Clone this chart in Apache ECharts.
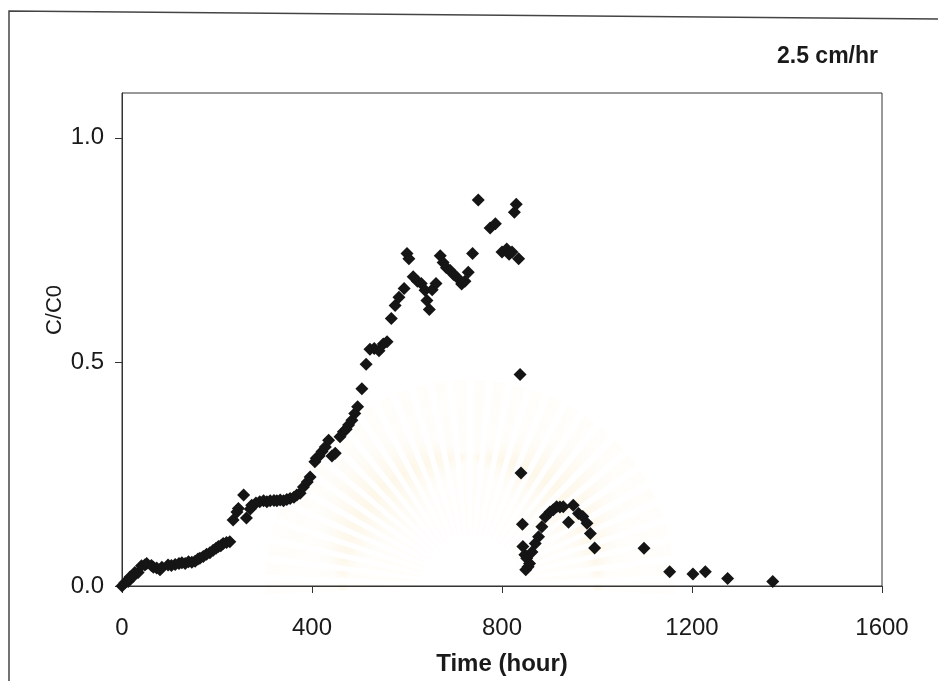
<!DOCTYPE html>
<html>
<head>
<meta charset="utf-8">
<script src="https://cdn.jsdelivr.net/npm/echarts@6/dist/echarts.min.js"></script>
<style>
  html, body { margin: 0; padding: 0; background: #fff; }
  #chart { width: 938px; height: 681px; }
</style>
</head>
<body>
<div id="chart"></div>
<script>
// Breakthrough curve, flow rate 2.5 cm/hr
const seriesTitle = '2.5 cm/hr';
const xAxisTitle = 'Time (hour)';
const yAxisTitle = 'C/C0';
const xTicks = [0, 400, 800, 1200, 1600];
const yTicks = [0, 0.5, 1.0];

// Elapsed time (hour)
const timeHours = [
  0, 6, 13, 17, 24, 27, 34, 41, 48, 52, 62, 66, 73, 80, 84, 97, 104, 112, 120, 126,
  133, 140, 147, 154, 160, 164, 171, 178, 185, 192, 198, 203, 208, 213, 220, 227,
  234, 242, 245, 256, 262, 270, 273, 282, 290, 298, 305, 312, 320, 326, 333, 340,
  347, 354, 362, 368, 375, 382, 390, 396, 406, 409, 415, 421, 428, 435, 442, 449,
  459, 466, 472, 477, 484, 490, 496, 505, 514, 522, 531, 541, 550, 558, 567, 575,
  583, 594, 600, 604, 613, 622, 630, 638, 642, 647, 653, 661, 670, 676, 683, 691,
  698, 705, 715, 722, 729, 738, 750, 775, 786, 800, 810, 815, 821, 826, 830, 835,
  838, 840, 843, 844, 848, 850, 852, 855, 858, 863, 870, 877, 884, 891, 901, 908,
  915, 922, 929, 940, 950, 961, 970, 979, 986, 995, 1099, 1153, 1202, 1228, 1275, 1370
];

// Relative concentration C/C0
const concRatio = [
  0, 0.007, 0.01, 0.02, 0.022, 0.03, 0.03, 0.045, 0.047, 0.05, 0.046, 0.042, 0.04, 0.036, 0.042, 0.047, 0.046, 0.048, 0.05, 0.052,
  0.05, 0.054, 0.053, 0.055, 0.06, 0.062, 0.066, 0.071, 0.074, 0.08, 0.084, 0.088, 0.09, 0.095, 0.097, 0.099,
  0.147, 0.165, 0.173, 0.203, 0.152, 0.172, 0.18, 0.185, 0.188, 0.19, 0.188, 0.19, 0.191, 0.19, 0.192, 0.19,
  0.193, 0.195, 0.198, 0.203, 0.207, 0.221, 0.232, 0.243, 0.277, 0.285, 0.29, 0.30, 0.31, 0.325, 0.29, 0.296,
  0.333, 0.344, 0.35, 0.359, 0.37, 0.385, 0.40, 0.44, 0.495, 0.528, 0.53, 0.525, 0.54, 0.545, 0.597, 0.626,
  0.644, 0.664, 0.742, 0.73, 0.69, 0.68, 0.675, 0.66, 0.637, 0.617, 0.661, 0.675, 0.737, 0.722, 0.71, 0.704,
  0.695, 0.689, 0.674, 0.68, 0.70, 0.742, 0.861, 0.799, 0.808, 0.745, 0.752, 0.74, 0.745, 0.834, 0.852, 0.73,
  0.472, 0.252, 0.138, 0.088, 0.07, 0.036, 0.062, 0.043, 0.05, 0.076, 0.095, 0.11, 0.132, 0.154, 0.165, 0.17,
  0.177, 0.176, 0.177, 0.142, 0.18, 0.162, 0.155, 0.14, 0.117, 0.085, 0.084, 0.032, 0.027, 0.032, 0.017, 0.01
];

const points = timeHours.map((t, i) => [t, concRatio[i]]);

const FONT = '"Liberation Sans", Arial, sans-serif';
const INK = '#1a1a1a';

// Faint emblem rays in the page background
const rays = [];
const cx = 470, cy = 585, r0 = 50, r1 = 205;
const nRays = 34;
for (let k = 0; k < nRays; k++) {
  const a = Math.PI * 0.98 + (k + 0.5) * Math.PI * 1.04 / nRays;
  const w = 0.03;
  rays.push({
    type: 'polygon',
    silent: true,
    z: -10,
    shape: { points: [
      [cx + r0 * Math.cos(a - w * 0.5), cy + r0 * Math.sin(a - w * 0.5)],
      [cx + r1 * Math.cos(a - w), cy + r1 * Math.sin(a - w)],
      [cx + r1 * Math.cos(a + w), cy + r1 * Math.sin(a + w)],
      [cx + r0 * Math.cos(a + w * 0.5), cy + r0 * Math.sin(a + w * 0.5)]
    ] },
    style: {
      fill: new echarts.graphic.RadialGradient(0.5, 0.5, 0.5, [
        { offset: 0, color: 'rgba(250, 225, 170, 0.25)' },
        { offset: 1, color: 'rgba(250, 235, 200, 0.08)' }
      ])
    }
  });
}

const chart = echarts.init(document.getElementById('chart'), null, { renderer: 'canvas' });
chart.setOption({
  animation: false,
  backgroundColor: '#fff',
  grid: {
    left: 122, right: 56, top: 93, bottom: 95,
    show: true, borderColor: '#333', borderWidth: 1, backgroundColor: 'transparent'
  },
  xAxis: {
    type: 'value', min: 0, max: 1600, interval: 400,
    axisLine: { show: true, onZero: false, lineStyle: { color: '#333', width: 1 } },
    axisTick: { show: true, inside: false, length: 7, lineStyle: { color: '#333' }, customValues: xTicks },
    axisLabel: {
      fontSize: 24, color: INK, fontFamily: FONT, margin: 30, customValues: xTicks,
      formatter: v => String(v)
    },
    splitLine: { show: false }
  },
  yAxis: {
    type: 'value', min: 0, max: 1.1,
    axisLine: { show: true, onZero: false, lineStyle: { color: '#333', width: 1 } },
    axisTick: { show: true, inside: false, length: 7, lineStyle: { color: '#333' }, customValues: yTicks },
    axisLabel: {
      fontSize: 24, color: INK, fontFamily: FONT, margin: 18, customValues: yTicks,
      formatter: v => v.toFixed(1)
    },
    splitLine: { show: false }
  },
  series: [{
    type: 'scatter',
    data: points,
    symbol: 'diamond',
    symbolSize: [13, 13],
    itemStyle: { color: '#151515', opacity: 1 }
  }],
  graphic: rays.concat([
    {
      type: 'polyline', silent: true,
      shape: { points: [[9, 681], [9, 11], [938, 19]] },
      style: { stroke: '#444', lineWidth: 1.5, fill: null }
    },
    {
      type: 'text', silent: true,
      style: {
        x: 878, y: 57, text: seriesTitle, align: 'right', verticalAlign: 'middle',
        font: 'bold 23px ' + FONT, fill: INK
      }
    },
    {
      type: 'text', silent: true,
      style: {
        x: 502, y: 664, text: xAxisTitle, align: 'center', verticalAlign: 'middle',
        font: 'bold 24px ' + FONT, fill: INK
      }
    },
    {
      type: 'text', silent: true,
      x: 55, y: 310, rotation: Math.PI / 2,
      style: {
        x: 0, y: 0, text: yAxisTitle, align: 'center', verticalAlign: 'middle',
        font: '22px ' + FONT, fill: INK
      }
    }
  ])
});
</script>
</body>
</html>
